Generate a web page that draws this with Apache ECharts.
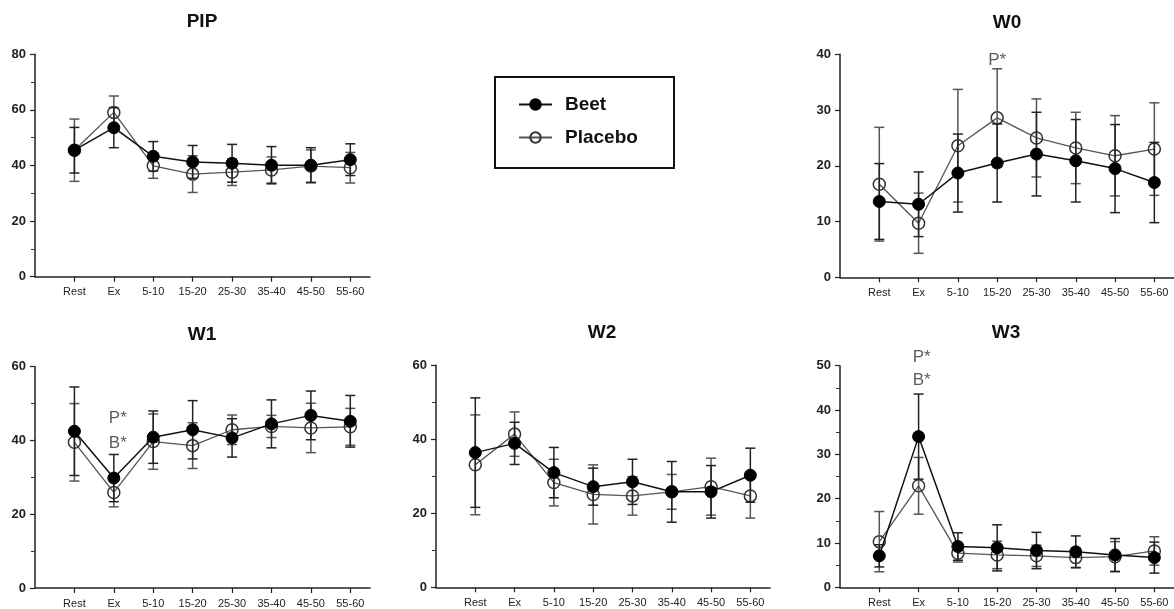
<!DOCTYPE html>
<html>
<head>
<meta charset="utf-8">
<script src="https://cdn.jsdelivr.net/npm/echarts@6/dist/echarts.min.js"></script>
<style>
  html, body { margin: 0; padding: 0; background: #fff; }
  #chart { width: 1174px; height: 609px; }
</style>
</head>
<body>
<div id="chart"></div>
<script>
  /** Data */
  var categories = ['Rest', 'Ex', '5-10', '15-20', '25-30', '35-40', '45-50', '55-60'];

  var pipBeet = [45.5, 53.6, 43.3, 41.3, 40.8, 40.1, 40.1, 42.1];
  var pipBeetSd = [8.2, 7.2, 5.3, 5.9, 6.8, 6.7, 6.3, 5.7];
  var pipPlacebo = [45.5, 59.1, 39.9, 36.9, 37.6, 38.4, 39.8, 39.2];
  var pipPlaceboSd = [11.2, 5.9, 4.5, 6.6, 4.8, 4.7, 5.8, 5.5];

  var w0Beet = [13.6, 13.1, 18.7, 20.5, 22.1, 20.9, 19.5, 17.0];
  var w0BeetSd = [6.8, 5.8, 7.0, 7.0, 7.5, 7.4, 7.9, 7.2];
  var w0Placebo = [16.7, 9.7, 23.6, 28.6, 25.0, 23.2, 21.8, 23.0];
  var w0PlaceboSd = [10.2, 5.4, 10.1, 8.8, 7.0, 6.4, 7.2, 8.3];

  var w1Beet = [42.5, 29.8, 40.9, 42.9, 40.7, 44.5, 46.8, 45.2];
  var w1BeetSd = [12.0, 6.4, 7.1, 7.9, 5.2, 6.5, 6.6, 7.0];
  var w1Placebo = [39.5, 25.9, 39.7, 38.6, 42.9, 43.8, 43.4, 43.7];
  var w1PlaceboSd = [10.5, 3.9, 7.5, 6.2, 4.0, 3.0, 6.7, 5.0];

  var w2Beet = [36.4, 38.9, 31.0, 27.2, 28.5, 25.8, 25.8, 30.3];
  var w2BeetSd = [14.8, 5.7, 6.8, 5.0, 6.1, 8.2, 7.1, 7.3];
  var w2Placebo = [33.1, 41.4, 28.3, 25.1, 24.7, 25.8, 27.2, 24.7];
  var w2PlaceboSd = [13.5, 6.0, 6.3, 8.0, 5.2, 4.7, 7.7, 6.0];

  var w3Beet = [7.1, 34.0, 9.2, 8.9, 8.3, 8.0, 7.3, 6.7];
  var w3BeetSd = [2.5, 9.6, 3.1, 5.2, 4.1, 3.6, 3.7, 3.5];
  var w3Placebo = [10.3, 22.9, 7.7, 7.3, 7.1, 6.7, 6.9, 8.2];
  var w3PlaceboSd = [6.8, 6.4, 2.0, 3.1, 2.4, 2.2, 3.4, 3.2];

  // significance marks: [x position, y value, text]
  var w0Marks = [[3, 39, 'P*']];
  var w1Marks = [[1.1, 46.1, 'P*'], [1.1, 39.3, 'B*']];
  var w3Marks = [[1.08, 51.9, 'P*'], [1.08, 46.8, 'B*']];

  /** Panels */
  var panels = [
    { title: 'PIP', at: [202, 22], box: [35, 54.3, 335, 222.4], max: 80, step: 20, minor: 2,
      beet: pipBeet, beetSd: pipBeetSd, placebo: pipPlacebo, placeboSd: pipPlaceboSd, marks: [] },
    { title: 'W0', at: [1007, 23], box: [840, 54.3, 334, 223], max: 40, step: 10, minor: 0,
      beet: w0Beet, beetSd: w0BeetSd, placebo: w0Placebo, placeboSd: w0PlaceboSd, marks: w0Marks },
    { title: 'W1', at: [202, 335], box: [35, 366.7, 335, 222.6], max: 60, step: 20, minor: 2,
      beet: w1Beet, beetSd: w1BeetSd, placebo: w1Placebo, placeboSd: w1PlaceboSd, marks: w1Marks },
    { title: 'W2', at: [602, 333], box: [436, 365.3, 334, 222], max: 60, step: 20, minor: 2,
      beet: w2Beet, beetSd: w2BeetSd, placebo: w2Placebo, placeboSd: w2PlaceboSd, marks: [] },
    { title: 'W3', at: [1006, 333], box: [840, 365.7, 334, 221.6], max: 50, step: 10, minor: 2,
      beet: w3Beet, beetSd: w3BeetSd, placebo: w3Placebo, placeboSd: w3PlaceboSd, marks: w3Marks }
  ];

  var FONT = 'Liberation Sans, Arial, sans-serif';
  var tickIdx = categories.map(function(c, i) { return i; });

  function points(values) {
    return values.map(function(v, i) { return [i, v]; });
  }

  function ranges(values, sd) {
    return values.map(function(v, i) { return [i, v - sd[i], v + sd[i]]; });
  }

  function errorBars(color) {
    return function(params, api) {
      var x = api.value(0);
      var top = api.coord([x, api.value(2)]);
      var bot = api.coord([x, api.value(1)]);
      var w = 5;
      var style = { stroke: color, lineWidth: 1.5 };
      return {
        type: 'group',
        children: [
          { type: 'line', shape: { x1: top[0], y1: top[1], x2: bot[0], y2: bot[1] }, style: style },
          { type: 'line', shape: { x1: top[0] - w, y1: top[1], x2: top[0] + w, y2: top[1] }, style: style },
          { type: 'line', shape: { x1: bot[0] - w, y1: bot[1], x2: bot[0] + w, y2: bot[1] }, style: style }
        ]
      };
    };
  }

  var grid = [], xAxis = [], yAxis = [], series = [], graphic = [];

  panels.forEach(function(p, k) {
    grid.push({ left: p.box[0], top: p.box[1], width: p.box[2], height: p.box[3] });

    xAxis.push({
      type: 'value', gridIndex: k, min: -1, max: 7.5,
      splitLine: { show: false },
      axisLine: { show: true, onZero: false, lineStyle: { color: '#222', width: 1.5 } },
      axisTick: { show: true, length: 5, customValues: tickIdx, lineStyle: { color: '#222', width: 1.2 } },
      axisLabel: {
        customValues: tickIdx, margin: 10, color: '#222', fontSize: 11, fontFamily: FONT,
        formatter: function(v) { return categories[Math.round(v)] || ''; }
      }
    });

    yAxis.push({
      type: 'value', gridIndex: k, min: 0, max: p.max, interval: p.step,
      splitLine: { show: false },
      axisLine: { show: true, onZero: false, lineStyle: { color: '#222', width: 1.5 } },
      axisTick: { show: true, length: 5, lineStyle: { color: '#222', width: 1.2 } },
      minorTick: { show: p.minor > 0, splitNumber: p.minor || 2, length: 4, lineStyle: { color: '#333', width: 1 } },
      axisLabel: { margin: 9, color: '#222', fontSize: 13, fontWeight: 'bold', fontFamily: FONT }
    });

    graphic.push({
      type: 'text', x: p.at[0], y: p.at[1],
      style: {
        text: p.title, textAlign: 'center', textVerticalAlign: 'middle',
        font: 'bold 19px ' + FONT, fill: '#111'
      }
    });

    series.push({
      name: 'Placebo', type: 'line', xAxisIndex: k, yAxisIndex: k, z: 2,
      data: points(p.placebo), symbol: 'circle', symbolSize: 12,
      lineStyle: { color: '#555', width: 1.3 },
      itemStyle: { color: 'rgba(255,255,255,0)', borderColor: '#333', borderWidth: 1.5 }
    });
    series.push({
      name: 'Beet', type: 'line', xAxisIndex: k, yAxisIndex: k, z: 4,
      data: points(p.beet), symbol: 'circle', symbolSize: 12,
      lineStyle: { color: '#111', width: 1.5 },
      itemStyle: { color: '#000', borderColor: '#000', borderWidth: 1 }
    });
    series.push({
      name: 'Placebo', type: 'custom', xAxisIndex: k, yAxisIndex: k, z: 3,
      data: ranges(p.placebo, p.placeboSd), renderItem: errorBars('#555'),
      itemStyle: { color: '#555' },
      encode: { x: 0, y: [1, 2] }, silent: true
    });
    series.push({
      name: 'Beet', type: 'custom', xAxisIndex: k, yAxisIndex: k, z: 3,
      data: ranges(p.beet, p.beetSd), renderItem: errorBars('#222'),
      itemStyle: { color: '#000' },
      encode: { x: 0, y: [1, 2] }, silent: true
    });
    if (p.marks.length) {
      series.push({
        type: 'scatter', xAxisIndex: k, yAxisIndex: k, z: 5, clip: false, silent: true,
        symbolSize: 0, data: p.marks,
        label: {
          show: true, position: 'inside', color: '#333', fontSize: 17, fontFamily: FONT,
          formatter: function(d) { return d.value[2]; }
        }
      });
    }
  });

  // legend frame
  graphic.push({
    type: 'rect', shape: { x: 495, y: 77, width: 179, height: 91 },
    style: { fill: '#fff', stroke: '#111', lineWidth: 2 }, z: 0
  });

  var option = {
    animation: false,
    backgroundColor: '#fff',
    grid: grid,
    xAxis: xAxis,
    yAxis: yAxis,
    legend: {
      data: ['Beet', 'Placebo'], orient: 'vertical', left: 513, top: 90,
      itemWidth: 33, itemHeight: 13, itemGap: 14, z: 10,
      textStyle: { fontSize: 19, fontWeight: 'bold', color: '#111', fontFamily: FONT, padding: [0, 0, 0, 8] }
    },
    graphic: graphic,
    series: series
  };

  echarts.init(document.getElementById('chart')).setOption(option);
</script>
</body>
</html>
